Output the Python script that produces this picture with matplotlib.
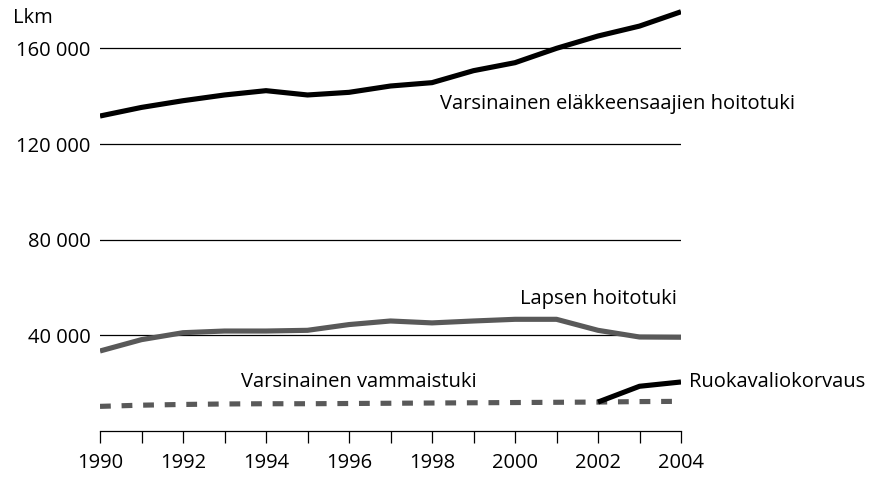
import matplotlib
matplotlib.use("Agg")
import matplotlib.pyplot as plt
from matplotlib.ticker import FuncFormatter, MultipleLocator

years = list(range(1990, 2005))
elake = [131700, 135300, 138100, 140500, 142300, 140500, 141600, 144250,
         145650, 150660, 154000, 160000, 165150, 169300, 175300]
lapsen = [33450, 38200, 41100, 41800, 41800, 42100, 44500, 46000,
          45200, 46000, 46700, 46700, 42100, 39300, 39200]
vammais = [10300, 10800, 11100, 11300, 11400, 11400, 11500, 11600,
           11700, 11800, 11900, 12000, 12100, 12300, 12400]
ruoka_years = [2002, 2003, 2004]
ruoka = [12100, 18700, 20500]

yticks = [40000, 80000, 120000, 160000]
xlabels = [1990, 1992, 1994, 1996, 1998, 2000, 2002, 2004]

plt.rcParams['font.family'] = ['Open Sans', 'DejaVu Sans']
fig = plt.figure(figsize=(8.73, 4.78), dpi=100)
ax = fig.add_axes([100/873, 1-431/478, 581/873, 430.5/478])
ax.set_xlim(1990, 2004)
ax.set_ylim(0, 180000)

for yv in yticks:
    ax.axhline(yv, color='black', lw=0.9, zorder=1)

gray = '#595959'
ax.plot(years, vammais, color=gray, lw=3.7, dashes=(2.1, 2.1),
        dash_capstyle='butt', zorder=3)
ax.plot(years, lapsen, color=gray, lw=3.7, solid_capstyle='butt', zorder=3)
ax.plot(years, elake, color='black', lw=3.7, solid_capstyle='butt', zorder=4)
ax.plot(ruoka_years, ruoka, color='black', lw=3.7, solid_capstyle='butt', zorder=4)

fs = 14.5
ax.text(1998.19, 136700, 'Varsinainen eläkkeensaajien hoitotuki', fontsize=fs, va='center', ha='left')
ax.text(2000.12, 55200, 'Lapsen hoitotuki', fontsize=fs, va='center', ha='left')
ax.text(1993.4, 20500, 'Varsinainen vammaistuki', fontsize=fs, va='center', ha='left')
ax.text(2004.2, 20500, 'Ruokavaliokorvaus', fontsize=fs, va='center', ha='left', clip_on=False)
fig.text(13/873, 1-18/478, 'Lkm', fontsize=fs, va='center', ha='left')

for s in ['top', 'right', 'left']:
    ax.spines[s].set_visible(False)
ax.spines['bottom'].set_linewidth(0.9)

ax.set_yticks(yticks)
ax.yaxis.set_major_formatter(FuncFormatter(lambda v, p: f"{int(v):,}".replace(',', ' ')))
ax.tick_params(axis='y', length=0, pad=7, labelsize=fs)
ax.set_xticks(xlabels)
ax.xaxis.set_minor_locator(MultipleLocator(1))
ax.tick_params(axis='x', which='both', direction='out', length=8.5, width=0.9, pad=7, labelsize=fs)

fig.savefig('out.png', dpi=100)
